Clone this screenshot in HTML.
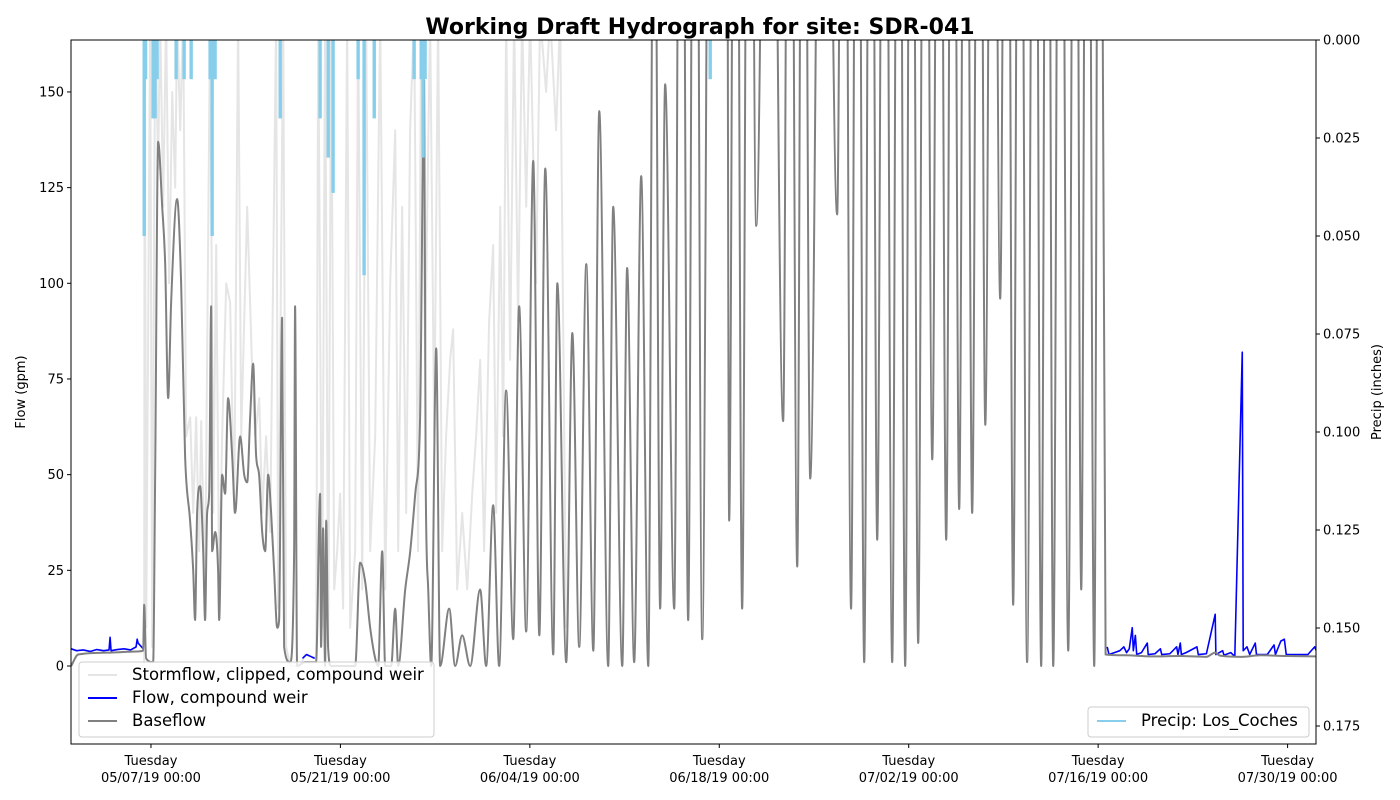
<!DOCTYPE html>
<html><head><meta charset="utf-8"><style>
body{margin:0;background:#fff;}
svg{display:block;font-family:"DejaVu Sans","Liberation Sans",sans-serif;}
</style></head><body>
<svg id="chart" width="1400" height="800" viewBox="0 0 1400 800">
<rect width="1400" height="800" fill="#fff"/>
<text x="700" y="34" text-anchor="middle" font-size="22" font-weight="bold">Working Draft Hydrograph for site: SDR-041</text>
<defs><clipPath id="plotclip"><rect x="71" y="40" width="1245" height="704"/></clipPath></defs>
<g id="marks" clip-path="url(#plotclip)"></g>
<rect x="71" y="40" width="1245" height="704" fill="none" stroke="#000" stroke-width="1"/>
<g id="axes"></g>
<text transform="translate(25,392) rotate(-90)" text-anchor="middle" font-size="13">Flow (gpm)</text>
<text transform="translate(1381,392) rotate(-90)" text-anchor="middle" font-size="13">Precip (inches)</text>
<g>
<rect x="79" y="662" width="355" height="75" rx="3" fill="#fff" fill-opacity="0.8" stroke="#ccc"/>
<line x1="88" y1="675" x2="117" y2="675" stroke="#e5e5e5" stroke-width="2"/>
<text x="132" y="680" font-size="16.5">Stormflow, clipped, compound weir</text>
<line x1="88" y1="698" x2="117" y2="698" stroke="#0000ff" stroke-width="2"/>
<text x="132" y="703" font-size="16.5">Flow, compound weir</text>
<line x1="88" y1="721" x2="117" y2="721" stroke="#808080" stroke-width="2"/>
<text x="132" y="726" font-size="16.5">Baseflow</text>
</g>
<g>
<rect x="1088" y="707" width="221" height="30" rx="3" fill="#fff" fill-opacity="0.8" stroke="#ccc"/>
<line x1="1097" y1="721" x2="1126" y2="721" stroke="#87ceeb" stroke-width="2"/>
<text x="1141" y="726" font-size="16.5">Precip: Los_Coches</text>
</g>
</svg>
<script>
const baseT=[0.1,0.62,2.98,4.98,5.42,5.5,5.64,6.16,6.31,6.53,6.83,7.05,7.27,7.49,7.93,8.23,8.52,8.89,9.12,9.26,9.41,9.63,9.86,10.0,10.15,10.3,10.45,10.52,10.74,10.96,11.04,11.26,11.48,11.7,12.0,12.22,12.59,12.89,13.11,13.33,13.55,13.77,13.99,14.22,14.44,14.66,14.88,15.1,15.33,15.47,15.69,15.84,16.28,16.58,16.65,16.8,17.39,18.2,18.5,18.57,18.72,18.87,18.95,19.09,19.31,19.83,20.06,20.35,20.9,21.09,21.46,21.83,22.2,22.57,22.79,23.09,23.31,23.75,24.05,24.27,24.79,25.16,25.53,25.89,26.19,26.3,26.49,26.71,27.08,27.37,28.04,28.48,29.0,29.59,30.33,30.77,31.29,31.73,32.25,32.77,33.21,33.73,34.25,34.7,35.14,35.73,36.03,36.69,37.14,37.65,38.17,38.69,39.13,39.79,40.16,40.83,41.19,41.71,42.23,42.75,43.19,43.63,44.0,44.67,45.18,45.7,46.2,46.74,47.4,48.0,48.5,48.73,49.2,49.69,50.2,50.73,51.7,52.72,53.2,53.76,54.2,54.72,55.7,56.71,57.2,57.74,58.2,58.71,59.2,59.67,60.2,60.78,61.25,61.74,62.2,62.7,63.2,63.74,64.25,64.77,65.25,65.73,66.2,66.69,67.2,67.66,68.2,68.76,69.25,69.72,70.2,70.75,71.3,71.79,72.24,72.68,73.2,73.79,74.3,74.75,75.2,75.71,76.1,76.55,78,80,82,84,84.65,85,86.65,88,90,92.12];
const baseV=[0,3,3.5,3.8,4,16,2,1,50,137,120,105,70,95,122,100,55,38,25,12,40,47,30,12,40,45,94,30,35,25,12,50,45,70,55,40,60,50,48,65,79,55,50,35,30,50,40,25,10,12,91,5,1,30,94,0,1,1,45,5,36,0,38,5,0,0,0,0,0,0,27,22,10,2,0,30,0,0,15,0,20,30,45,65,153,50,20,0,83,0,15,0,8,0,20,0,42,0,72,7,94,9,132,8,130,3,100,1,87,5,105,4,145,0,120,0,104,1,128,0,250,15,152,15,350,12,350,7,350,350,350,38,350,15,350,115,350,64,350,26,350,49,350,118,350,15,350,1,350,33,350,1,350,0,350,6,350,54,350,33,350,41,350,40,350,63,350,96,350,16,350,1,350,0,350,0,350,4,350,20,350,0,350,3,2.8,2.5,2.6,2.4,3.5,2.7,2.4,2.8,2.6,2.5];
const stormT=[5.5,5.53,5.65,5.94,6.09,6.31,6.53,6.68,6.9,7.12,7.34,7.57,7.79,7.94,8.16,8.38,8.6,8.9,9.12,9.34,9.56,9.71,10.0,10.37,10.6,10.82,11.04,11.26,11.56,11.85,12.15,12.44,12.67,13.11,13.48,13.7,14.0,14.22,14.51,14.81,15.25,15.4,15.77,15.99,16.29,16.73,17.03,17.39,18.21,18.36,18.65,18.87,19.1,19.32,19.54,19.76,19.98,20.2,20.5,20.72,21.09,21.31,21.61,21.9,22.2,22.57,22.94,23.31,23.68,24.05,24.27,24.56,24.86,25.15,25.45,25.74,25.97,26.26,26.63,26.93,27.22,27.52,27.81,28.11,28.33,28.63,29.0,29.37,29.74,30.03,30.33,30.62,30.99,31.29,31.51,31.81,32.03,32.25,32.54,32.84,33.13,33.43,33.73,34.02,34.46,34.76,35.2,35.5,35.94,36.24,36.68];
const stormV=[0,170,10,170,5,170,130,170,120,170,100,150,125,170,140,170,60,65,40,65,30,64,20,170,40,110,20,60,100,95,40,170,60,120,77,60,70,40,60,35,170,15,170,5,0,0,0,3,2,170,10,170,5,170,20,30,45,15,170,10,30,170,20,170,30,60,170,20,100,140,30,120,40,140,170,30,170,80,170,60,170,30,60,80,88,20,40,20,45,60,80,30,90,110,40,120,60,170,80,170,90,170,120,170,100,170,150,170,140,170,10];
const flowLeftT=[0.1,0.5,1,1.5,2,2.5,2.9,2.98,3.05,3.5,4,4.5,4.9,4.98,5.05,5.3,5.42];
const flowLeftV=[4.5,4,4.2,3.8,4.3,4,4.2,7.5,4,4.3,4.5,4.2,5,7,6,5,4.5];
const flowMidT=[17.2,17.5,17.8,18.1];
const flowMidV=[2,3,2.5,2];
const flowRightT=[76.67,76.8,77.2,77.6,77.9,78.1,78.3,78.52,78.6,78.75,78.85,79.2,79.63,79.7,80.2,80.6,80.7,81.3,81.8,81.9,82.07,82.15,82.5,83.3,83.4,84.0,84.65,84.7,85.2,85.3,85.8,86.1,86.65,86.72,87.0,87.2,87.61,87.7,88.2,88.5,89,89.1,89.5,89.76,89.9,90.5,91.5,92.0,92.12];
const flowRightV=[5,3,3.5,4,5,3.5,4.5,10,4,8,3,3.5,6,3,3.2,4.5,3,3.2,5,3,6,3,3.5,5,3,3.2,13.5,3,4,2.8,3.5,2.5,82,4,5,3,6,3,3,3,5.5,3,6.5,7,3,3,3,5,4];
const precipT=[5.5,5.6,6.16,6.3,6.45,7.86,8.45,8.97,10.37,10.52,10.65,10.74,15.55,18.5,19.1,19.46,21.31,21.75,22.5,25.45,25.97,26.11,26.26,47.33];
const precipV=[0.05,0.01,0.02,0.02,0.01,0.01,0.01,0.01,0.01,0.05,0.01,0.01,0.02,0.02,0.03,0.039,0.01,0.06,0.02,0.01,0.01,0.03,0.01,0.01];
const flowTicks=[0,25,50,75,100,125,150];
const precipTicks=[0,0.025,0.05,0.075,0.1,0.125,0.15,0.175];
const dateTicks=[6,20,34,48,62,76,90];
const dateLabels=["05/07/19 00:00","05/21/19 00:00","06/04/19 00:00","06/18/19 00:00","07/02/19 00:00","07/16/19 00:00","07/30/19 00:00"];

const NS="http://www.w3.org/2000/svg";
const X0=71,X1=1316,Y0=40,Y1=744;
const D0=0.09,D1=92.1;
function xs(d){return X0+(d-D0)/(D1-D0)*(X1-X0);}
function ys(v){return 666-v*3.827;}
function yp(p){return Y0+p/0.025*98;}
const marks=document.getElementById('marks');
const axes=document.getElementById('axes');
function mk(tag,attrs,parent){const e=document.createElementNS(NS,tag);for(const k in attrs)e.setAttribute(k,attrs[k]);parent.appendChild(e);return e;}
function monotonePath(px,py){
  const n=px.length;if(n<3){return 'M'+px.map((x,i)=>x+','+py[i]).join('L');}
  const d=[],m=new Array(n);
  for(let i=0;i<n-1;i++){const h=px[i+1]-px[i];d.push(h>0?(py[i+1]-py[i])/h:0);}
  m[0]=d[0];m[n-1]=d[n-2];
  for(let i=1;i<n-1;i++){m[i]=(d[i-1]*d[i]<=0)?0:(d[i-1]+d[i])/2;}
  for(let i=0;i<n-1;i++){
    if(d[i]===0){m[i]=0;m[i+1]=0;continue;}
    const a=m[i]/d[i],b=m[i+1]/d[i],s=a*a+b*b;
    if(s>9){const t=3/Math.sqrt(s);m[i]=t*a*d[i];m[i+1]=t*b*d[i];}
  }
  let p='M'+px[0].toFixed(2)+','+py[0].toFixed(2);
  for(let i=0;i<n-1;i++){const h=(px[i+1]-px[i])/3;
    p+='C'+(px[i]+h).toFixed(2)+','+(py[i]+m[i]*h).toFixed(2)+' '+(px[i+1]-h).toFixed(2)+','+(py[i+1]-m[i+1]*h).toFixed(2)+' '+px[i+1].toFixed(2)+','+py[i+1].toFixed(2);}
  return p;
}
function line(T,V,color,w,name,smooth){
  const px=T.map(xs),py=V.map(ys);
  const dd=smooth?monotonePath(px,py):'M'+px.map((x,i)=>x.toFixed(2)+','+py[i].toFixed(2)).join('L');
  const p=mk('path',{d:dd,fill:'none',stroke:color,'stroke-width':w,'stroke-linejoin':'round'},marks);
  
  
}
line(stormT,stormV,'#e5e5e5',2,'stormflow-line',false);
line(flowLeftT,flowLeftV,'#0000ff',1.6,'flow-line-early',false);
line(flowMidT,flowMidV,'#0000ff',1.6,'flow-line-mid',false);
line(flowRightT,flowRightV,'#0000ff',1.6,'flow-line-late',false);
line(baseT,baseV,'#808080',2,'baseflow-line',true);
precipT.forEach((t,i)=>{
  const w=xs(t+0.25)-xs(t);
  const r=mk('rect',{x:xs(t)-w/2,y:Y0,width:w,height:yp(precipV[i])-Y0,fill:'#87ceeb'},marks);
  
  
});
flowTicks.forEach(v=>{
  const y=ys(v);
  mk('line',{x1:X0-4,y1:y,x2:X0,y2:y,stroke:'#000'},axes);
  const t=mk('text',{x:X0-7,y:y+4.5,'text-anchor':'end','font-size':13},axes);
  t.textContent=v;
  
  
});
precipTicks.forEach(v=>{
  const y=yp(v);
  mk('line',{x1:X1,y1:y,x2:X1+4,y2:y,stroke:'#000'},axes);
  const t=mk('text',{x:X1+7,y:y+4.5,'font-size':13},axes);
  t.textContent=v.toFixed(3);
  
  
});
dateTicks.forEach((d,i)=>{
  const x=xs(d);
  mk('line',{x1:x,y1:Y1,x2:x,y2:Y1+4,stroke:'#000'},axes);
  const t1=mk('text',{x:x,y:765,'text-anchor':'middle','font-size':13},axes);
  t1.textContent='Tuesday';
  
  
  const t2=mk('text',{x:x,y:782,'text-anchor':'middle','font-size':13},axes);
  t2.textContent=dateLabels[i];
  
  
});
</script>
</body></html>
